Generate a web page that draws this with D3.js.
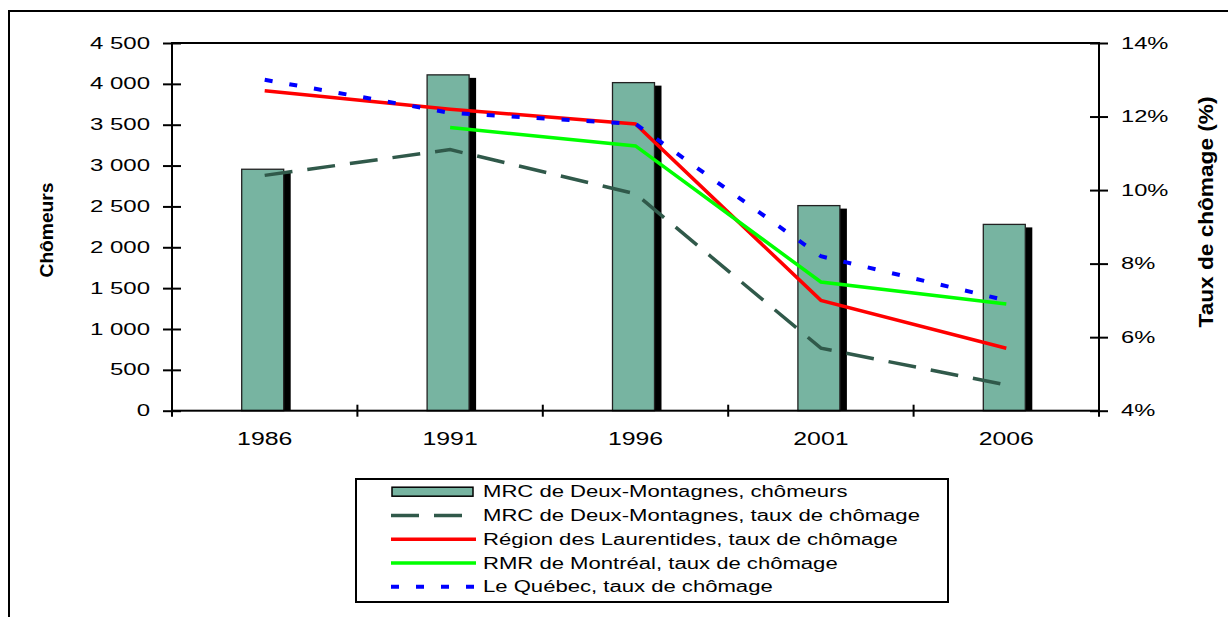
<!DOCTYPE html>
<html>
<head>
<meta charset="utf-8">
<script src="https://cdn.jsdelivr.net/npm/d3@7"></script>
<style>
  body { margin: 0; background: #fff; }
  text { font-family: "Liberation Sans", Arial, sans-serif; fill: #000; }
</style>
</head>
<body>
<svg id="chart" width="1228" height="617"></svg>
<script>
// data
const years = ["1986", "1991", "1996", "2001", "2006"];
const chomeurs = [2955, 4110, 4015, 2510, 2280];
const tauxDeuxMontagnes = [10.4, 11.1, 9.9, 5.7, 4.7];
const tauxLaurentides = [12.7, 12.2, 11.8, 7.0, 5.7];
const tauxMontreal = [null, 11.7, 11.2, 7.5, 6.9];
const tauxQuebec = [13.0, 12.1, 11.8, 8.2, 7.0];
const leftTicks = [0, 500, 1000, 1500, 2000, 2500, 3000, 3500, 4000, 4500];
const rightTicks = [4, 6, 8, 10, 12, 14];

const svg = d3.select("#chart");
const plot = { left: 172, right: 1099, top: 43, bottom: 410.7 };

// stretch text horizontally like the original
const stretch = (sel, k) =>
  sel.each(function () {
    const w = this.getComputedTextLength();
    d3.select(this).attr("textLength", w * k).attr("lengthAdjust", "spacingAndGlyphs");
  });

// outer frame
svg.append("rect")
  .attr("x", 9).attr("y", 11)
  .attr("width", 1400).attr("height", 800)
  .attr("fill", "none").attr("stroke", "#000").attr("stroke-width", 2);

const x = d3.scaleBand().domain(years).range([plot.left, plot.right]).padding(0);
const yL = d3.scaleLinear().domain([0, 4500]).range([plot.bottom, plot.top]);
const yR = d3.scaleLinear().domain([4, 14]).range([plot.bottom, plot.top]);
const cx = (d) => x(d) + x.bandwidth() / 2;

// bars with black shadow
const barW = 42;
const barData = years.map((y, i) => ({ year: y, value: chomeurs[i] }));
svg.selectAll(".shadow").data(barData).enter().append("rect")
  .attr("class", "shadow")
  .attr("x", (d) => cx(d.year) - barW / 2 - 2 + 7)
  .attr("y", (d) => yL(d.value) + 3)
  .attr("width", barW)
  .attr("height", (d) => yL(0) - yL(d.value) - 3)
  .attr("fill", "#000");
svg.selectAll(".bar").data(barData).enter().append("rect")
  .attr("class", "bar")
  .attr("x", (d) => cx(d.year) - barW / 2 - 2)
  .attr("y", (d) => yL(d.value))
  .attr("width", barW)
  .attr("height", (d) => yL(0) - yL(d.value))
  .attr("fill", "#77b4a1")
  .attr("stroke", "#222").attr("stroke-width", 1.3);

// rate lines
const series = [
  { values: tauxDeuxMontagnes, color: "#30594a", width: 3.5, dash: "28,15" },
  { values: tauxLaurentides, color: "#ff0000", width: 3.5, dash: null },
  { values: tauxMontreal, color: "#00ff00", width: 3.5, dash: null },
  { values: tauxQuebec, color: "#0000ff", width: 4, dash: "8,17" }
];
const line = d3.line()
  .defined((d) => d.v != null)
  .x((d) => cx(d.year))
  .y((d) => yR(d.v));
series.forEach((s) => {
  svg.append("path")
    .datum(years.map((y, i) => ({ year: y, v: s.values[i] })))
    .attr("d", line)
    .attr("fill", "none")
    .attr("stroke", s.color)
    .attr("stroke-width", s.width)
    .attr("stroke-dasharray", s.dash);
});

// plot frame
svg.append("rect")
  .attr("x", plot.left).attr("y", plot.top)
  .attr("width", plot.right - plot.left).attr("height", plot.bottom - plot.top)
  .attr("fill", "none").attr("stroke", "#000").attr("stroke-width", 2);

// left axis
const gL = svg.append("g")
  .attr("transform", `translate(${plot.left},0)`)
  .call(d3.axisLeft(yL).tickValues(leftTicks).tickSize(9).tickPadding(13)
    .tickFormat((d) => d3.format(",")(d).replace(",", " ")));
gL.select(".domain").remove();
gL.selectAll(".tick line").attr("x1", 9).attr("stroke-width", 2);
gL.selectAll("text").attr("font-size", 16).attr("font-family", null).call(stretch, 1.5);

// right axis
const gR = svg.append("g")
  .attr("transform", `translate(${plot.right},0)`)
  .call(d3.axisRight(yR).tickValues(rightTicks).tickSize(9).tickPadding(13)
    .tickFormat((d) => d + "%"));
gR.select(".domain").remove();
gR.selectAll(".tick line").attr("x1", -9).attr("stroke-width", 2);
gR.selectAll("text").attr("font-size", 16).attr("font-family", null).call(stretch, 1.48);

// bottom axis: labels centred, ticks at category boundaries
const gB = svg.append("g")
  .attr("transform", `translate(0,${plot.bottom})`)
  .call(d3.axisBottom(x).tickSize(0).tickPadding(21.5));
gB.select(".domain").remove();
gB.selectAll("text").attr("font-size", 18).attr("font-family", null).call(stretch, 1.38);
const bounds = years.map((y) => x(y)).concat([plot.right]);
svg.append("g").selectAll("line").data(bounds).enter().append("line")
  .attr("x1", (d) => d).attr("x2", (d) => d)
  .attr("y1", plot.bottom - 6).attr("y2", plot.bottom + 6)
  .attr("stroke", "#000").attr("stroke-width", 2);

// axis titles
svg.append("text")
  .attr("transform", "translate(53,230) rotate(-90)")
  .attr("text-anchor", "middle")
  .attr("font-size", 18).attr("font-weight", "bold")
  .attr("textLength", 95).attr("lengthAdjust", "spacingAndGlyphs")
  .text("Chômeurs");
svg.append("text")
  .attr("transform", "translate(1212.5,212) rotate(-90)")
  .attr("text-anchor", "middle")
  .attr("font-size", 20).attr("font-weight", "bold")
  .attr("textLength", 231).attr("lengthAdjust", "spacingAndGlyphs")
  .text("Taux de chômage (%)");

// legend
const legendItems = [
  { label: "MRC de Deux-Montagnes, chômeurs", type: "bar" },
  { label: "MRC de Deux-Montagnes, taux de chômage", s: series[0] },
  { label: "Région des Laurentides, taux de chômage", s: series[1] },
  { label: "RMR de Montréal, taux de chômage", s: series[2] },
  { label: "Le Québec, taux de chômage", s: series[3] }
];
const lg = svg.append("g");
lg.append("rect")
  .attr("x", 356).attr("y", 479).attr("width", 592).attr("height", 123)
  .attr("fill", "#fff").attr("stroke", "#000").attr("stroke-width", 2);
legendItems.forEach((it, i) => {
  const yy = 491.7 + i * 23.75;
  if (it.type === "bar") {
    lg.append("rect")
      .attr("x", 392).attr("y", yy - 4.5).attr("width", 81).attr("height", 9)
      .attr("fill", "#77b4a1").attr("stroke", "#000").attr("stroke-width", 1.5);
  } else {
    lg.append("line")
      .attr("x1", 391).attr("x2", 476).attr("y1", yy).attr("y2", yy)
      .attr("stroke", it.s.color).attr("stroke-width", it.s.width)
      .attr("stroke-dasharray", it.s.dash);
  }
  lg.append("text")
    .attr("x", 483).attr("y", yy).attr("dy", "0.35em")
    .attr("font-size", 16)
    .text(it.label)
    .call(stretch, 1.38);
});
</script>
</body>
</html>
